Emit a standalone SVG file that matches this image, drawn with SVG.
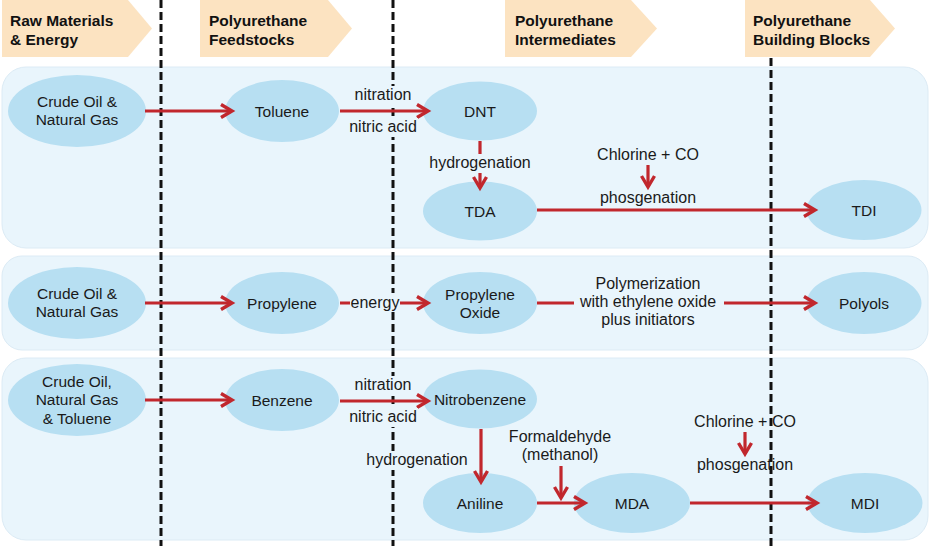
<svg xmlns="http://www.w3.org/2000/svg" width="930" height="546" viewBox="0 0 930 546">
<defs>
<marker id="ah" markerUnits="userSpaceOnUse" markerWidth="16" markerHeight="16" refX="12" refY="7" orient="auto" overflow="visible">
<path d="M1,0.5 L12,7 L1,13.5" fill="none" stroke="#c1272d" stroke-width="3.4" stroke-linejoin="miter"/>
</marker>
</defs>
<style>
.hdr{fill:#fce3c1}
.ht{font-family:"Liberation Sans",Arial,sans-serif;font-weight:bold;font-size:15.5px;fill:#111}
.row{fill:#e9f5fc;stroke:#dcebf5;stroke-width:1}
.div{stroke:#111;stroke-width:3;stroke-dasharray:8 4;fill:none}
.node{fill:#b7dff2}
.nt{font-family:"Liberation Sans",Arial,sans-serif;font-size:15.5px;fill:#1a1a1a;text-anchor:middle}
.lt{font-family:"Liberation Sans",Arial,sans-serif;font-size:16px;fill:#1a1a1a;text-anchor:middle}
.lb{fill:#e9f5fc}
.c{stroke:#c1272d;stroke-width:3.2;fill:none;marker-end:url(#ah)}
</style>
<rect width="930" height="546" fill="#ffffff"/>
<g id="headers">
<polygon class="hdr" points="2,0 128,0 152,28.5 128,57 2,57"/>
<polygon class="hdr" points="200,0 328,0 352,28.5 328,57 200,57"/>
<polygon class="hdr" points="505,0 631,0 657,28.5 631,57 505,57"/>
<polygon class="hdr" points="745,0 870,0 895,28.5 870,57 745,57"/>
<text class="ht" x="10" y="26">Raw Materials</text>
<text class="ht" x="10" y="45">&amp; Energy</text>
<text class="ht" x="209" y="26">Polyurethane</text>
<text class="ht" x="209" y="45">Feedstocks</text>
<text class="ht" x="515" y="26">Polyurethane</text>
<text class="ht" x="515" y="45">Intermediates</text>
<text class="ht" x="753" y="26">Polyurethane</text>
<text class="ht" x="753" y="45">Building Blocks</text>
</g>
<g id="rows">
<rect class="row" x="2" y="67" width="926" height="181" rx="24"/>
<rect class="row" x="2" y="256" width="926" height="94" rx="20"/>
<rect class="row" x="2" y="358" width="926" height="182" rx="24"/>
</g>
<g id="dividers">
<line class="div" x1="161" y1="0" x2="161" y2="546"/>
<line class="div" x1="393" y1="0" x2="393" y2="546"/>
<line class="div" x1="771" y1="58" x2="771" y2="546"/>
</g>
<g id="crude1"><ellipse class="node" cx="77" cy="111" rx="69" ry="36"/><text class="nt" x="77" y="107">Crude Oil &amp;</text><text class="nt" x="77" y="125">Natural Gas</text></g>
<g id="toluene"><ellipse class="node" cx="282" cy="111" rx="57" ry="31"/><text class="nt" x="282" y="117">Toluene</text></g>
<g id="dnt"><ellipse class="node" cx="480" cy="111" rx="57" ry="29.5"/><text class="nt" x="480" y="117">DNT</text></g>
<g id="tda"><ellipse class="node" cx="480" cy="211" rx="57" ry="29.5"/><text class="nt" x="480" y="217">TDA</text></g>
<g id="tdi"><ellipse class="node" cx="864" cy="210" rx="57.5" ry="30"/><text class="nt" x="864" y="216">TDI</text></g>
<g id="crude2"><ellipse class="node" cx="77" cy="303" rx="69" ry="36"/><text class="nt" x="77" y="299">Crude Oil &amp;</text><text class="nt" x="77" y="317">Natural Gas</text></g>
<g id="propylene"><ellipse class="node" cx="282" cy="303" rx="57" ry="31"/><text class="nt" x="282" y="309">Propylene</text></g>
<g id="propylene-oxide"><ellipse class="node" cx="480" cy="303" rx="57" ry="31"/><text class="nt" x="480" y="300">Propylene</text><text class="nt" x="480" y="318">Oxide</text></g>
<g id="polyols"><ellipse class="node" cx="864" cy="303" rx="57.5" ry="31"/><text class="nt" x="864" y="309">Polyols</text></g>
<g id="crude3"><ellipse class="node" cx="77" cy="400" rx="69" ry="36"/><text class="nt" x="77" y="387">Crude Oil,</text><text class="nt" x="77" y="405">Natural Gas</text><text class="nt" x="77" y="424">&amp; Toluene</text></g>
<g id="benzene"><ellipse class="node" cx="282" cy="400" rx="57" ry="31"/><text class="nt" x="282" y="406">Benzene</text></g>
<g id="nitrobenzene"><ellipse class="node" cx="480" cy="399" rx="57" ry="29.5"/><text class="nt" x="480" y="405">Nitrobenzene</text></g>
<g id="aniline"><ellipse class="node" cx="480" cy="503" rx="57" ry="30"/><text class="nt" x="480" y="509">Aniline</text></g>
<g id="mda"><ellipse class="node" cx="632" cy="503" rx="58" ry="30"/><text class="nt" x="632" y="509">MDA</text></g>
<g id="mdi"><ellipse class="node" cx="865" cy="503" rx="57.5" ry="30"/><text class="nt" x="865" y="509">MDI</text></g>
<g id="connectors">
<line class="c" x1="145" y1="111" x2="232" y2="111"/>
<line class="c" x1="340" y1="111" x2="428" y2="111"/>
<line class="c" x1="480" y1="141" x2="480" y2="188"/>
<line class="c" x1="648" y1="165" x2="648" y2="187"/>
<line class="c" x1="537" y1="210" x2="815" y2="210"/>
<line class="c" x1="145" y1="303" x2="232" y2="303"/>
<line class="c" x1="340" y1="303" x2="428" y2="303"/>
<line class="c" x1="537" y1="303" x2="815" y2="303"/>
<line class="c" x1="145" y1="400" x2="232" y2="400"/>
<line class="c" x1="340" y1="401" x2="428" y2="401"/>
<line class="c" x1="481" y1="429" x2="481" y2="482"/>
<line class="c" x1="537" y1="503" x2="585" y2="503"/>
<line class="c" x1="561" y1="466" x2="561" y2="498"/>
<line class="c" x1="690" y1="503" x2="817" y2="503"/>
<line class="c" x1="745" y1="432" x2="745" y2="454"/>
</g>
<g id="labels">
<rect class="lb" x="352" y="86" width="62" height="19"/>
<text class="lt" x="383" y="100">nitration</text>
<rect class="lb" x="348" y="118" width="70" height="19"/>
<text class="lt" x="383" y="132">nitric acid</text>
<rect class="lb" x="428" y="154" width="104" height="19"/>
<text class="lt" x="480" y="168">hydrogenation</text>
<text class="lt" x="648" y="160">Chlorine + CO</text>
<text class="lt" x="648" y="203">phosgenation</text>
<rect class="lb" x="350" y="293" width="50" height="19"/>
<text class="lt" x="375" y="308">energy</text>
<rect class="lb" x="574" y="273" width="150" height="57"/>
<text class="lt" x="648" y="289">Polymerization</text>
<text class="lt" x="648" y="307">with ethylene oxide</text>
<text class="lt" x="648" y="325">plus initiators</text>
<rect class="lb" x="352" y="376" width="62" height="19"/>
<text class="lt" x="383" y="390">nitration</text>
<rect class="lb" x="348" y="408" width="70" height="19"/>
<text class="lt" x="383" y="422">nitric acid</text>
<rect class="lb" x="366" y="451" width="103" height="19"/>
<text class="lt" x="417" y="465">hydrogenation</text>
<text class="lt" x="560" y="442">Formaldehyde</text>
<text class="lt" x="560" y="460">(methanol)</text>
<text class="lt" x="745" y="427">Chlorine + CO</text>
<text class="lt" x="745" y="470">phosgenation</text>
</g>
</svg>
